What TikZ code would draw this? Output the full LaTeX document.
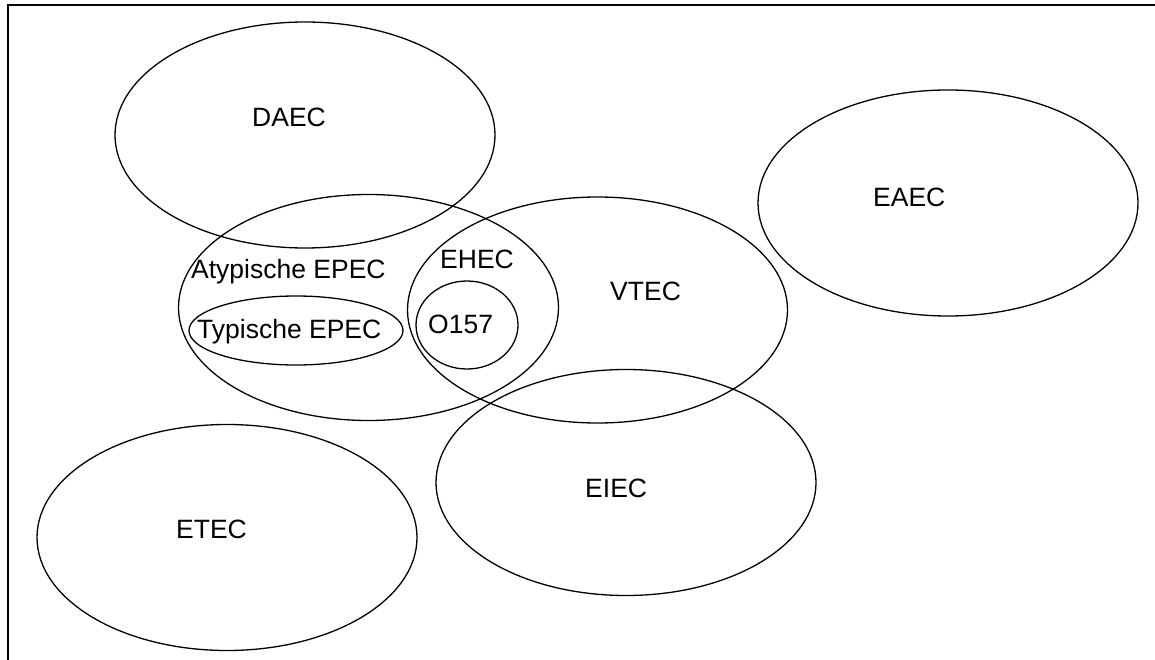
\documentclass[tikz,border=0pt]{standalone}
\usepackage{fontspec}
\setmainfont{Liberation Sans}
\usetikzlibrary{shapes.geometric}
\begin{document}
\begin{tikzpicture}[x=1pt,y=-1pt,
  set/.style={draw, ellipse, line width=1.3pt, inner sep=0pt},
  big/.style={set, minimum width=380pt, minimum height=226pt},
  lbl/.style={anchor=base west, inner sep=0pt, font=\fontsize{26.5}{30}\selectfont},
  frameline/.style={line width=1.8pt}]
\useasboundingbox (0,0) rectangle (1155,660);
\coordinate (fbl) at (8,660);
\coordinate (ftl) at (8,5);
\coordinate (ftr) at (1155,5);
\draw[frameline] (fbl) -- (ftl) -- (ftr);
\node[big] (daec) at (305,135) {};
\node[big] (eaec) at (948,203) {};
\node[big] (epec) at (368.5,307.5) {};
\node[big] (vtec) at (597.5,310) {};
\node[big] (eiec) at (626,482.5) {};
\node[big] (etec) at (227,537.5) {};
\node[set, minimum width=102pt, minimum height=88pt] (o157) at (467,325) {};
\node[set, minimum width=214pt, minimum height=69pt] (typ) at (296,330.5) {};
\node[lbl] (tdaec) at (252,127) {DAEC};
\node[lbl] (teaec) at (873,207) {EAEC};
\node[lbl] (tatyp) at (191,278) {Atypische EPEC};
\node[lbl] (ttyp) at (197,338) {Typische EPEC};
\node[lbl] (tehec) at (440,268) {EHEC};
\node[lbl] (to157) at (428,333) {O157};
\node[lbl] (tvtec) at (610,300) {VTEC};
\node[lbl] (teiec) at (585,497) {EIEC};
\node[lbl] (tetec) at (176,538) {ETEC};
\end{tikzpicture}
\end{document}
